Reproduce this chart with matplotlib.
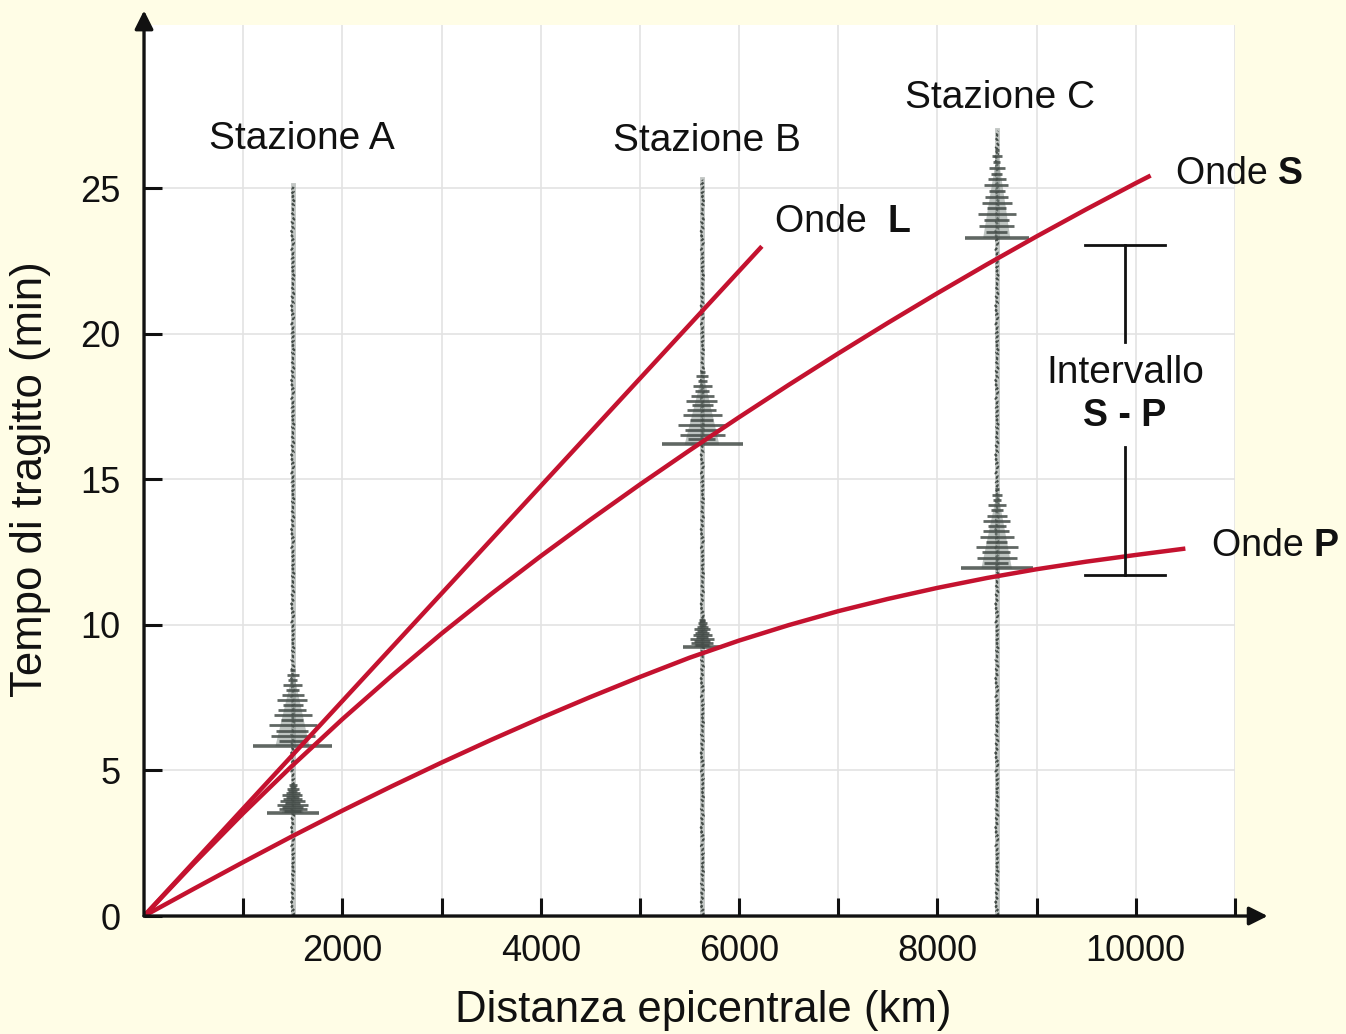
import numpy as np
import matplotlib
matplotlib.use("Agg")
import matplotlib.pyplot as plt

plt.rcParams['font.family'] = ['Liberation Sans', 'DejaVu Sans']

# Travel-time curves (distance in km, time in minutes)
p_km = [0, 500, 1000, 1500, 2000, 2500, 3000, 3500, 4000, 4500, 5000, 5500,
        6000, 6500, 7000, 7500, 8000, 8500, 9000, 9500, 10000, 10500]
p_min = [0, 0.93, 1.85, 2.75, 3.62, 4.46, 5.27, 6.05, 6.80, 7.52, 8.21, 8.87,
         9.46, 9.99, 10.47, 10.89, 11.27, 11.61, 11.91, 12.17, 12.40, 12.62]

s_km = [0, 500, 1000, 1500, 2000, 2500, 3000, 3500, 4000, 4500, 5000, 5500,
        6000, 6500, 7000, 7500, 8000, 8500, 9000, 9500, 10000, 10150]
s_min = [0, 1.80, 3.53, 5.18, 6.76, 8.26, 9.70, 11.06, 12.36, 13.61, 14.82, 15.99,
         17.13, 18.24, 19.32, 20.37, 21.39, 22.38, 23.34, 24.27, 25.17, 25.43]

l_km = [0, 6230]
l_min = [0, 23.0]

# Seismograph stations
station_names = ['Stazione A', 'Stazione B', 'Stazione C']
station_km = [1500, 5630, 8600]
trace_top = [25.1, 25.3, 27.0]
p_onset = [3.55, 9.25, 11.95]
p_burst_len = [1.0, 1.0, 2.7]
p_burst_half = [260, 200, 360]
s_onset = [5.85, 16.2, 23.3]
s_burst_len = [2.6, 2.5, 3.0]
s_burst_half = [400, 410, 320]

# Relative stroke widths of a burst, from its onset upward
burst_shape = [1.0, 0.35, 0.55, 0.42, 0.6, 0.3, 0.48, 0.38, 0.25, 0.4, 0.28, 0.18, 0.24, 0.12, 0.15, 0.06]
# Small sideways jitter of the seismogram trace (km)
trace_jitter = [0, 12, -8, 15, -12, 5, -16, 10, -4, 8, -11, 14, -2, 6, -14, 3]

x_ticks_major = [2000, 4000, 6000, 8000, 10000]
x_ticks_minor = [1000, 3000, 5000, 7000, 9000, 11000]
y_ticks = [0, 5, 10, 15, 20, 25]

RED = '#c4122f'
BG = '#fffde6'
INK = '#111111'
TRACE = '#444c48'

fig = plt.figure(figsize=(13.46, 10.34), dpi=100, facecolor=BG)
ax = fig.add_axes([0.1070, 0.1141, 0.8105, 0.8617])
ax.set_facecolor('white')
ax.set_xlim(0, 11000)
ax.set_ylim(0, 30.6)

for s in ax.spines.values():
    s.set_visible(False)

# Grid
for gx in x_ticks_minor + x_ticks_major:
    ax.axvline(gx, color='#e3e3e3', lw=1.2, zorder=0)
for gy in y_ticks[1:]:
    ax.axhline(gy, color='#e3e3e3', lw=1.2, zorder=0)

# Seismograms
for k in range(len(station_km)):
    x0 = station_km[k]
    ts = np.arange(0, trace_top[k], 0.08)
    xs = [x0 + trace_jitter[i % len(trace_jitter)] for i in range(len(ts))]
    ax.plot([x0, x0], [0, trace_top[k]], color='#9aa19d', lw=3.5, alpha=0.6, zorder=2)
    ax.plot(xs, ts, color=TRACE, lw=1.6, zorder=2, dashes=(1.5, 1.0))
    for onset, length, half in ((p_onset[k], p_burst_len[k], p_burst_half[k]),
                                (s_onset[k], s_burst_len[k], s_burst_half[k])):
        n = len(burst_shape)
        tt = [onset + length * i / (n - 1) for i in range(n)]
        ww = [half * r for r in burst_shape]
        body = [half * 0.45 * (1 - i / (n - 1)) for i in range(n)]
        ax.fill_betweenx(tt, [x0 - b for b in body], [x0 + b * 0.9 for b in body],
                         color='#7f8a85', alpha=0.5, lw=0, zorder=2)
        for j, (t, w) in enumerate(zip(tt, ww)):
            ax.plot([x0 - w, x0 + w * (0.9 if j % 2 else 1.0)], [t, t], color=TRACE,
                    lw=2.0 if j else 2.6, alpha=0.85, solid_capstyle='butt', zorder=2)

# Travel-time curves
for xs_, ys_ in ((p_km, p_min), (s_km, s_min), (l_km, l_min)):
    ax.plot(xs_, ys_, color=RED, lw=3.2, zorder=4, solid_capstyle='butt',
            solid_joinstyle='round')

# S-P interval bracket
bx = 9890
cap = 400
sp_top, sp_bottom = 23.04, 11.71
ax.plot([bx - cap, bx + cap], [sp_top, sp_top], color=INK, lw=2, zorder=5, clip_on=False)
ax.plot([bx - cap, bx + cap], [sp_bottom, sp_bottom], color=INK, lw=2, zorder=5, clip_on=False)
ax.plot([bx, bx], [sp_top, 19.7], color=INK, lw=2, zorder=5)
ax.plot([bx, bx], [16.1, sp_bottom], color=INK, lw=2, zorder=5)
ax.text(bx, 18.65, 'Intervallo', ha='center', va='center', fontsize=28, color=INK)
ax.text(bx, 17.17, 'S - P', ha='center', va='center', fontsize=27, color=INK,
        fontweight='bold')

# Station and wave labels
label_pos = [(1590, 26.7), (5675, 26.6), (8630, 28.1)]
for name, (lx, ly) in zip(station_names, label_pos):
    ax.text(lx, ly, name, ha='center', va='center', fontsize=28, color=INK)

def wave_label(x, y, text, letter):
    t = ax.text(x, y, text, ha='left', va='center', fontsize=27, color=INK,
                clip_on=False)
    ax.annotate(letter, xycoords=t, xy=(1, 0.5), va='center', ha='left',
                fontsize=27, fontweight='bold', color=INK, annotation_clip=False)

wave_label(6361, 23.83, 'Onde  ', 'L')
wave_label(10403, 25.48, 'Onde ', 'S')
wave_label(10766, 12.7, 'Onde ', 'P')

# Axes with arrow heads
ax.annotate('', xy=(11330, 0), xytext=(0, 0), xycoords='data',
            arrowprops=dict(arrowstyle='-|>', lw=2.4, color=INK, mutation_scale=28,
                            shrinkA=0, shrinkB=0), annotation_clip=False, zorder=6)
ax.annotate('', xy=(0, 31.1), xytext=(0, 0), xycoords='data',
            arrowprops=dict(arrowstyle='-|>', lw=2.4, color=INK, mutation_scale=28,
                            shrinkA=0, shrinkB=0), annotation_clip=False, zorder=6)

ax.set_xticks(x_ticks_major)
ax.set_xticks(x_ticks_minor, minor=True)
ax.set_xticklabels([str(v) for v in x_ticks_major])
ax.set_yticks(y_ticks)
ax.set_yticklabels([str(v) for v in y_ticks])
ax.tick_params(axis='x', which='both', direction='in', length=13, width=2.2,
               colors=INK, labelsize=26, pad=13)
ax.tick_params(axis='y', which='both', direction='in', length=13, width=2.2,
               colors=INK, labelsize=26, pad=17)

ax.set_xlabel('Distanza epicentrale (km)', fontsize=31.5, color=INK)
ax.set_ylabel('Tempo di tragitto (min)', fontsize=31.5, color=INK)
ax.xaxis.set_label_coords(0.513, -0.083)
ax.yaxis.set_label_coords(-0.085, 0.49)

fig.savefig('out.png', dpi=100, facecolor=BG)
